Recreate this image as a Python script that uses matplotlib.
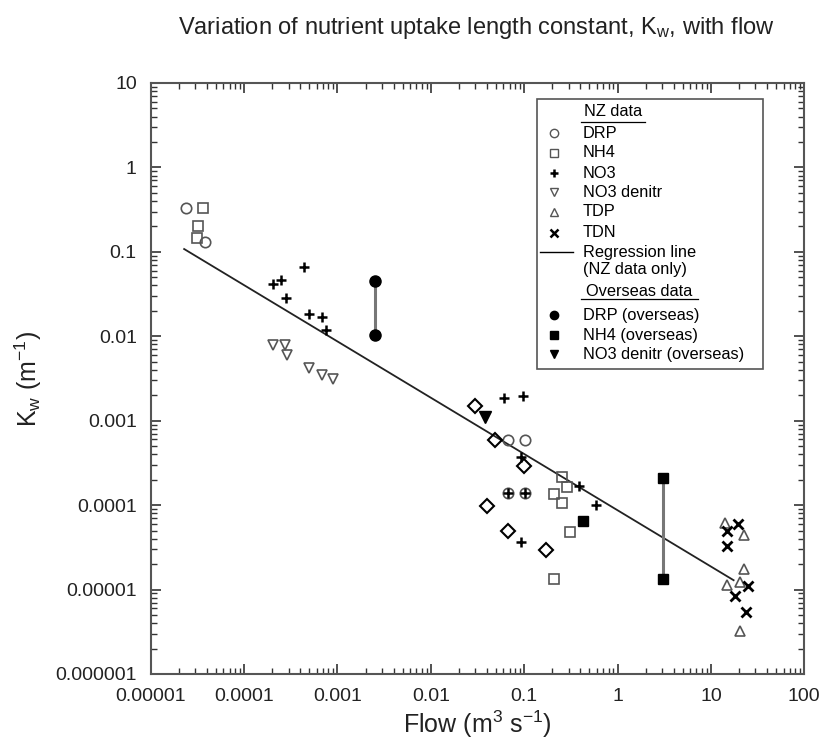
import matplotlib
matplotlib.use('Agg')
import matplotlib.pyplot as plt
import numpy as np

plt.rcParams['font.family'] = ['Liberation Sans', 'DejaVu Sans']
plt.rcParams['mathtext.fontset'] = 'custom'
plt.rcParams['mathtext.rm'] = 'Liberation Sans'
plt.rcParams['mathtext.it'] = 'Liberation Sans:italic'

# NZ data
drp_x = [2.37e-5, 3.82e-5, 0.067, 0.101, 0.0664, 0.101]
drp_y = [0.333, 0.132, 5.89e-4, 5.89e-4, 1.4e-4, 1.4e-4]
nh4_x = [3.6e-5, 3.19e-5, 3.11e-5, 0.254, 0.288, 0.21, 0.254, 0.307, 0.21]
nh4_y = [0.333, 0.202, 0.1445, 2.16e-4, 1.65e-4, 1.34e-4, 1.05e-4, 4.75e-5, 1.35e-5]
no3_x = [2.03e-4, 2.5e-4, 4.43e-4, 2.8e-4, 5.0e-4, 6.9e-4, 7.57e-4,
         0.0612, 0.0962, 0.0925, 0.39, 0.589, 0.0925, 0.0664, 0.101]
no3_y = [0.0412, 0.0459, 0.066, 0.0281, 0.0186, 0.01688, 0.012,
         1.84e-3, 1.95e-3, 3.73e-4, 1.68e-4, 1.0e-4, 3.67e-5, 1.4e-4, 1.4e-4]
den_x = [2.06e-4, 2.75e-4, 2.89e-4, 4.98e-4, 6.86e-4, 9.0e-4]
den_y = [0.00787, 0.00787, 0.00598, 0.0042, 0.00347, 0.00311]
tdp_x = [14.3, 22.5, 22.5, 14.8, 20.4, 20.4]
tdp_y = [6.07e-5, 4.41e-5, 1.75e-5, 1.13e-5, 1.23e-5, 3.2e-6]
tdn_x = [19.4, 14.9, 14.9, 25.1, 17.9, 23.8]
tdn_y = [5.95e-5, 4.92e-5, 3.3e-5, 1.11e-5, 8.4e-6, 5.45e-6]
# unlabelled diamonds
dia_x = [0.0294, 0.049, 0.0986, 0.0399, 0.0664, 0.171]
dia_y = [1.49e-3, 5.89e-4, 2.9e-4, 9.8e-5, 4.92e-5, 2.93e-5]

# regression line (NZ data only)
reg_x = [2.28e-5, 17.5]
reg_y = [0.108, 1.29e-5]

# overseas data
os_drp_x = [2.52e-3, 2.52e-3]
os_drp_y = [0.0451, 0.0103]
os_nh4_x = [3.04, 3.04, 0.423]
os_nh4_y = [2.1e-4, 1.32e-5, 6.5e-5]
os_den_x = [0.0377]
os_den_y = [1.11e-3]

x_ticks = [1e-5, 1e-4, 1e-3, 1e-2, 1e-1, 1, 10, 100]
x_labels = ['0.00001', '0.0001', '0.001', '0.01', '0.1', '1', '10', '100']
y_ticks = [1e-6, 1e-5, 1e-4, 1e-3, 1e-2, 1e-1, 1, 10]
y_labels = ['0.000001', '0.00001', '0.0001', '0.001', '0.01', '0.1', '1', '10']

fig = plt.figure(figsize=(8.25, 7.43), dpi=100)
ax = fig.add_axes([0.1827, 0.0929, 0.7922, 0.7954])

gray = '#555555'
ax.plot(reg_x, reg_y, c='#222222', lw=1.3, zorder=2)
ax.plot(os_drp_x, os_drp_y, c='#777777', lw=2.2, zorder=2)
ax.plot(os_nh4_x[:2], os_nh4_y[:2], c='#777777', lw=2.2, zorder=2)

ax.plot(drp_x, drp_y, 'o', ms=7.5, mfc='none', mec=gray, mew=1.2, ls='none')
ax.plot(nh4_x, nh4_y, 's', ms=7, mfc='none', mec=gray, mew=1.2, ls='none')
ax.plot(no3_x, no3_y, '+', ms=7.5, mec='k', mew=1.8, ls='none')
ax.plot(den_x, den_y, 'v', ms=7.5, mfc='none', mec=gray, mew=1.2, ls='none')
ax.plot(tdp_x, tdp_y, '^', ms=7.5, mfc='none', mec=gray, mew=1.2, ls='none')
ax.plot(tdn_x, tdn_y, 'x', ms=7, mec='k', mew=2.0, ls='none')
ax.plot(dia_x, dia_y, 'D', ms=7, mfc='none', mec='k', mew=1.5, ls='none')
ax.plot(os_drp_x, os_drp_y, 'o', ms=8, c='k', ls='none', zorder=3)
ax.plot(os_nh4_x, os_nh4_y, 's', ms=7.5, c='k', ls='none', zorder=3)
ax.plot(os_den_x, os_den_y, 'v', ms=8, c='k', ls='none', zorder=3)

ax.set_xscale('log')
ax.set_yscale('log')
ax.set_xlim(1e-5, 100)
ax.set_ylim(1e-6, 10)
ax.set_xticks(x_ticks)
ax.set_xticklabels(x_labels)
ax.set_yticks(y_ticks)
ax.set_yticklabels(y_labels)
ax.xaxis.set_minor_locator(matplotlib.ticker.LogLocator(base=10, subs=np.arange(2, 10), numticks=20))
ax.yaxis.set_minor_locator(matplotlib.ticker.LogLocator(base=10, subs=np.arange(2, 10), numticks=20))
ax.xaxis.set_minor_formatter(matplotlib.ticker.NullFormatter())
ax.yaxis.set_minor_formatter(matplotlib.ticker.NullFormatter())
ax.tick_params(which='both', direction='in', top=True, right=True, colors='#333333',
               labelcolor='#222222', labelsize=14)
ax.tick_params(which='major', length=7, width=1.2, pad=10)
ax.tick_params(which='minor', length=4, width=1.0)
for s in ax.spines.values():
    s.set_linewidth(1.5)
    s.set_color('#555555')

ax.set_xlabel(r'Flow (m$^3$ s$^{-1}$)', fontsize=18, labelpad=3, color='#222222')
ax.set_ylabel(r'K$_\mathrm{w}$ (m$^{-1}$)', fontsize=18, labelpad=8, color='#222222')
fig.text(0.577, 0.962, r'Variation of nutrient uptake length constant, K$_\mathrm{w}$, with flow',
         ha='center', va='center', fontsize=17, color='#222222')

# legend drawn by hand in axes fractions
T = ax.transAxes
ax.add_patch(plt.Rectangle((0.591, 0.5156), 0.346, 0.4574, transform=T,
                           fc='white', ec='#555555', lw=1.2, zorder=5))
fs = 11.8
mx, tx = 0.617, 0.661
ax.text(0.708, 0.951, 'NZ data', transform=T, ha='center', va='center', fontsize=fs, zorder=6)
ax.plot([0.659, 0.757], [0.934, 0.934], transform=T, c='k', lw=0.9, zorder=6)
rows = [('DRP', 'o', 'none', gray, 0.9149),
        ('NH4', 's', 'none', gray, 0.882),
        ('NO3', '+', 'k', 'k', 0.847),
        ('NO3 denitr', 'v', 'none', gray, 0.815),
        ('TDP', '^', 'none', gray, 0.782),
        ('TDN', 'x', 'k', 'k', 0.747),
        ('DRP (overseas)', 'o', 'k', 'k', 0.6074),
        ('NH4 (overseas)', 's', 'k', 'k', 0.573),
        ('NO3 denitr (overseas)', 'v', 'k', 'k', 0.541)]
for lab, m, fc, ec, y in rows:
    mew = 1.8 if m in '+x' else 1.0
    ax.plot([mx], [y], marker=m, ms=6, mfc=fc, mec=ec, mew=mew, transform=T,
            clip_on=False, zorder=6, ls='none')
    ax.text(tx, y, lab, transform=T, va='center', fontsize=fs, zorder=6)
ax.plot([0.596, 0.646], [0.7135, 0.7135], transform=T, c='k', lw=1.0, zorder=6)
ax.text(tx, 0.7135, 'Regression line', transform=T, va='center', fontsize=fs, zorder=6)
ax.text(tx, 0.6836, '(NZ data only)', transform=T, va='center', fontsize=fs, zorder=6)
ax.text(0.748, 0.647, 'Overseas data', transform=T, ha='center', va='center', fontsize=fs, zorder=6)
ax.plot([0.658, 0.838], [0.6337, 0.6337], transform=T, c='k', lw=0.9, zorder=6)

fig.savefig('out.png', dpi=100)
